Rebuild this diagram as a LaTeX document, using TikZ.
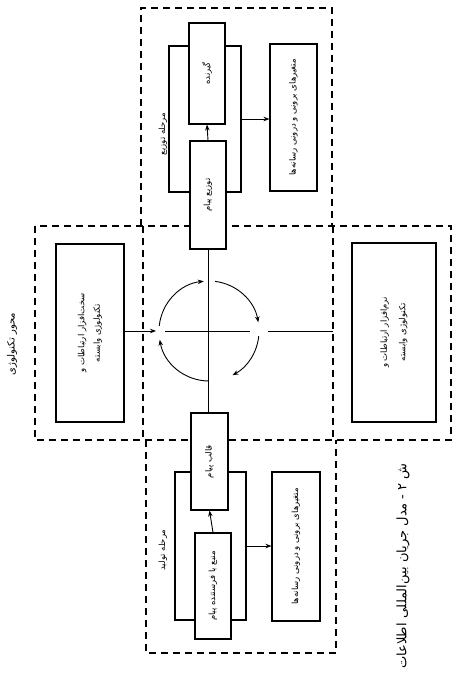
\documentclass[tikz,border=0pt]{standalone}
\usepackage{fontspec}
\usepackage{graphicx}
\usetikzlibrary{arrows.meta}
\TeXXeTstate=1
\newfontfamily\arabicfont[Script=Arabic]{DejaVu Sans}
\newcommand\fatext[1]{{\arabicfont\beginR #1\endR}}
\newcommand\rtext[1]{\rotatebox{90}{#1}}
\begin{document}
\begin{tikzpicture}[x=1pt,y=-1pt,
  dashline/.style={dash pattern=on 7pt off 5pt, line width=1.1pt},
  boxst/.style={draw, fill=white, line width=1.05pt, rectangle, inner sep=0pt},
  bracket/.style={draw, line width=1.05pt, rectangle, inner sep=0pt},
  thinl/.style={line width=0.9pt},
  arr/.style={-{Stealth[length=6pt,width=4.5pt]}, line width=0.9pt},
  txt/.style={font=\fontsize{8.5}{10.5}\selectfont},
  lab/.style={font=\fontsize{8.5}{10}\selectfont, inner sep=0pt}]
\useasboundingbox (0,0) rectangle (454,682);
\fill[white] (0,0) rectangle (454,682);

% dashed cross-shaped frames
\draw[dashline] (141,226) -- (141,8) -- (332,8) -- (332,226);
\draw[dashline] (35,226) rectangle (451,440);
\draw[dashline] (143,226) -- (143,440);
\draw[dashline] (333,226) -- (333,440);
\draw[dashline] (146,440) -- (146,653) -- (336,653) -- (336,440);

% brackets
\node[bracket, minimum width=72pt, minimum height=146pt] (brT) at (205,119) {};
\node[bracket, minimum width=71pt, minimum height=148pt] (brB) at (210.5,546) {};

% distribution stage
\node[boxst, txt, minimum width=36pt, minimum height=101pt] (recv) at (207,73.5) {\rtext{\fatext{گیرنده}}};
\node[boxst, txt, minimum width=36pt, minimum height=108pt] (dist) at (208,195) {\rtext{\fatext{توزیع پیام}}};
\node[boxst, txt, minimum width=47pt, minimum height=147pt] (varT) at (293.5,117.5) {\rtext{\fatext{متغیرهای برونی و درونی رسانه‌ها}}};
\draw[arr] (dist.north) -- (recv.south);
\draw[arr] (brT.east) -- (brT.east -| varT.west);
\node[lab] (labT) at (163,134) {\rtext{\fatext{مرحله توزیع}}};

% production stage
\node[boxst, txt, minimum width=37pt, minimum height=97pt] (fmt) at (209.5,461.5) {\rtext{\fatext{قالب پیام}}};
\node[boxst, txt, minimum width=36pt, minimum height=106pt] (src) at (213,586) {\rtext{\fatext{منبع یا فرستنده پیام}}};
\node[boxst, txt, minimum width=48pt, minimum height=149pt] (varB) at (296,546.5) {\rtext{\fatext{متغیرهای برونی و درونی رسانه‌ها}}};
\draw[arr] (src.north) -- (fmt.south);
\draw[arr] (brB.east) -- (brB.east -| varB.west);
\node[lab] (labB) at (163,550) {\rtext{\fatext{مرحله تولید}}};

% technology axis
\node[boxst, txt, minimum width=68pt, minimum height=178pt] (hw) at (90,333) {\rotatebox{90}{\begin{tabular}{@{}c@{}}{\arabicfont\beginR سخت‌افزار ارتباطات و\endR}\\[5pt]{\arabicfont\beginR تکنولوژی وابسته\endR}\end{tabular}}};
\node[boxst, txt, minimum width=84pt, minimum height=179pt] (sw) at (394,332.5) {\rotatebox{90}{\begin{tabular}{@{}c@{}}{\arabicfont\beginR نرم‌افزار ارتباطات و\endR}\\[8pt]{\arabicfont\beginR تکنولوژی وابسته\endR}\end{tabular}}};
\node[font=\fontsize{10}{12}\selectfont, inner sep=0pt] (labM) at (12,344) {\rtext{\fatext{محور تکنولوژی}}};

% central cross and cycle
\coordinate (h1) at (165,331);
\coordinate (h2) at (250,331);
\coordinate (h3) at (268,331);
\coordinate (h4) at (333,331);
\coordinate (cl) at (156,331);
\draw[thinl] (dist.south) -- (dist.south |- fmt.north);
\draw[thinl] (h1) -- (h2);
\draw[thinl] (h3) -- (h4);
\draw[arr] (hw.east |- cl) -- (cl);
\begin{scope}[shift={(209,331)}, x=1pt, y=1pt]
  \coordinate (cc) at (0,0);
  \draw[arr] (cc) ++(174:50pt) arc[start angle=174, end angle=96, radius=50pt];
  \draw[arr] (cc) ++(83:50pt) arc[start angle=83, end angle=10, radius=50pt];
  \draw[arr] (cc) ++(-6:50pt) arc[start angle=-6, end angle=-62, radius=50pt];
  \draw[arr] (cc) ++(-90:50pt) arc[start angle=-90, end angle=-170, radius=50pt];
\end{scope}

% caption
\node[font=\fontsize{13}{15}\selectfont, inner sep=0pt] (cap) at (403,566) {\rtext{\fatext{ش ۲ - مدل جریان بین‌المللی اطلاعات}}};
\end{tikzpicture}
\end{document}
